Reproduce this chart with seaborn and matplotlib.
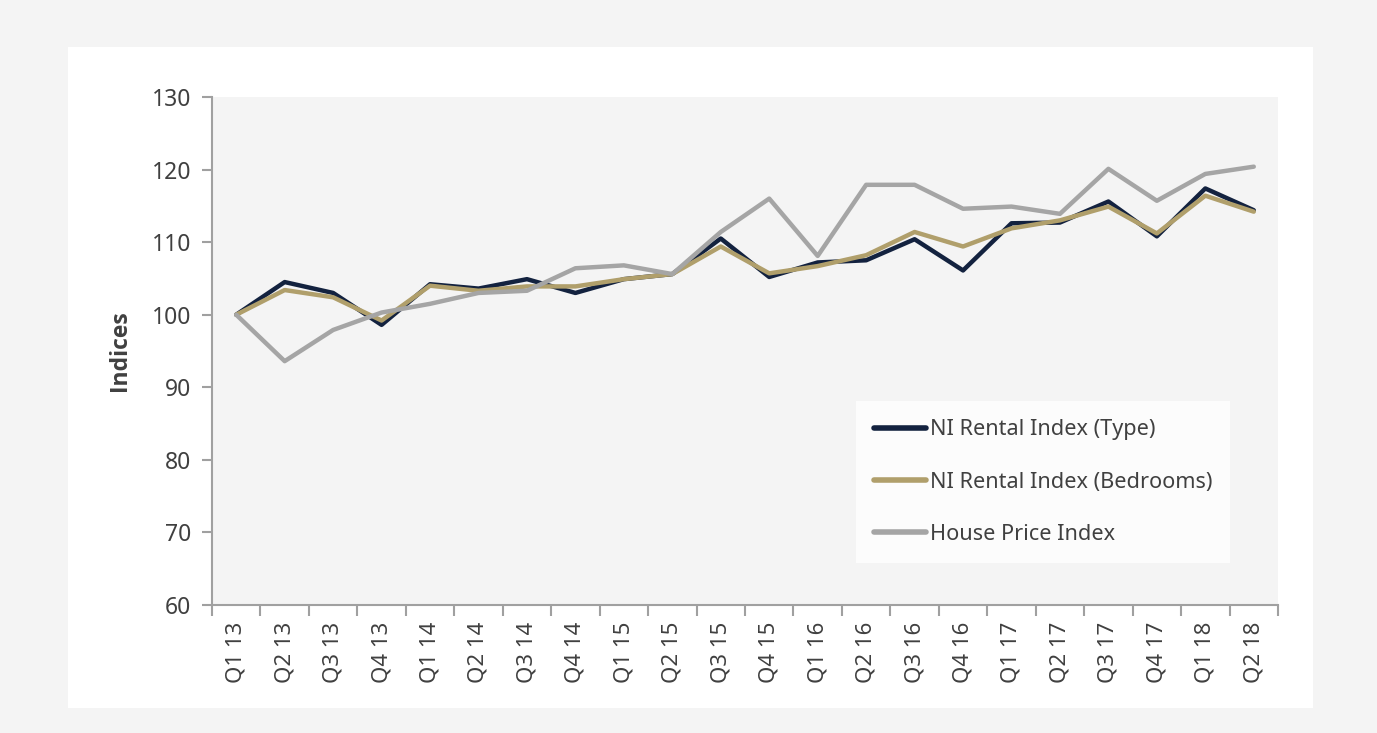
import pandas as pd
import matplotlib.pyplot as plt
import seaborn as sns
from matplotlib.patches import Rectangle

quarters = ['Q1 13', 'Q2 13', 'Q3 13', 'Q4 13', 'Q1 14', 'Q2 14', 'Q3 14', 'Q4 14',
            'Q1 15', 'Q2 15', 'Q3 15', 'Q4 15', 'Q1 16', 'Q2 16', 'Q3 16', 'Q4 16',
            'Q1 17', 'Q2 17', 'Q3 17', 'Q4 17', 'Q1 18', 'Q2 18']

rental_type = [100.0, 104.5, 103.0, 98.6, 104.2, 103.6, 104.9, 103.0, 104.9, 105.6, 110.5,
               105.2, 107.2, 107.5, 110.4, 106.1, 112.6, 112.7, 115.6, 110.8, 117.4, 114.4]
rental_beds = [100.0, 103.4, 102.4, 99.2, 104.0, 103.3, 103.9, 103.9, 104.9, 105.6, 109.4,
               105.7, 106.7, 108.2, 111.4, 109.4, 111.9, 113.0, 114.9, 111.2, 116.4, 114.2]
house_price = [100.0, 93.6, 97.9, 100.3, 101.5, 103.0, 103.3, 106.4, 106.8, 105.6, 111.4,
               116.0, 108.1, 117.9, 117.9, 114.6, 114.9, 113.9, 120.1, 115.7, 119.4, 120.4]

series = ['NI Rental Index (Type)', 'NI Rental Index (Bedrooms)', 'House Price Index']
colors = ['#13223f', '#b09f6b', '#a5a5a5']

df = pd.concat([
    pd.DataFrame({'Quarter': quarters, 'Index': vals, 'Series': name})
    for name, vals in zip(series, [rental_type, rental_beds, house_price])
])

sns.set_style('white')
plt.rcParams['font.family'] = ['Noto Sans', 'DejaVu Sans']
text_col = '#404040'

fig = plt.figure(figsize=(13.77, 7.33), dpi=100, facecolor='#f4f4f4')
# white card behind the chart
fig.patches.append(Rectangle((68 / 1377, 1 - 708 / 733), (1313 - 68) / 1377, (708 - 47) / 733,
                             transform=fig.transFigure, facecolor='white', edgecolor='none', zorder=-5))
ax = fig.add_axes([212 / 1377, 1 - 605 / 733, (1278 - 212) / 1377, (605 - 97) / 733])
ax.set_zorder(1)
ax.set_facecolor('#f4f4f4')

sns.lineplot(data=df, x='Quarter', y='Index', hue='Series', palette=colors,
             sort=False, linewidth=3.2, ax=ax)

ax.set_ylim(60, 130)
ax.set_yticks(range(60, 131, 10))
ax.set_xlim(-0.5, len(quarters) - 0.5)
ax.set_xticks(range(len(quarters)))
ax.set_xticklabels(quarters, rotation=90)
ax.set_xticks([i - 0.5 for i in range(len(quarters) + 1)], minor=True)
ax.tick_params(axis='x', which='major', bottom=True, length=0, pad=12, labelsize=16, labelcolor=text_col)
ax.tick_params(axis='x', which='minor', bottom=True, length=8, width=1.5, color='#a0a0a0', direction='out')
ax.tick_params(axis='y', left=True, length=7, width=1.5, color='#a0a0a0', direction='out',
               labelsize=16.5, labelcolor=text_col, pad=8)

for s in ['top', 'right']:
    ax.spines[s].set_visible(False)
for s in ['left', 'bottom']:
    ax.spines[s].set_color('#a0a0a0')
    ax.spines[s].set_linewidth(1.5)

ax.set_xlabel('')
ax.set_ylabel('Indices', fontsize=16.5, fontweight='bold', family=['Open Sans', 'DejaVu Sans'],
              color=text_col, labelpad=14)

leg = ax.legend(loc='upper left', bbox_to_anchor=(0.604, 0.402), frameon=True, fancybox=False,
                fontsize=15.6, handlelength=2.4, handletextpad=0.15, labelspacing=1.45,
                borderpad=0.85, borderaxespad=0)
leg.get_frame().set_facecolor('white')
leg.get_frame().set_edgecolor('none')
for t in leg.get_texts():
    t.set_color(text_col)
for h in leg.get_lines():
    h.set_linewidth(4)
    h.set_solid_capstyle('round')

fig.savefig('out.png', dpi=100, facecolor=fig.get_facecolor())
